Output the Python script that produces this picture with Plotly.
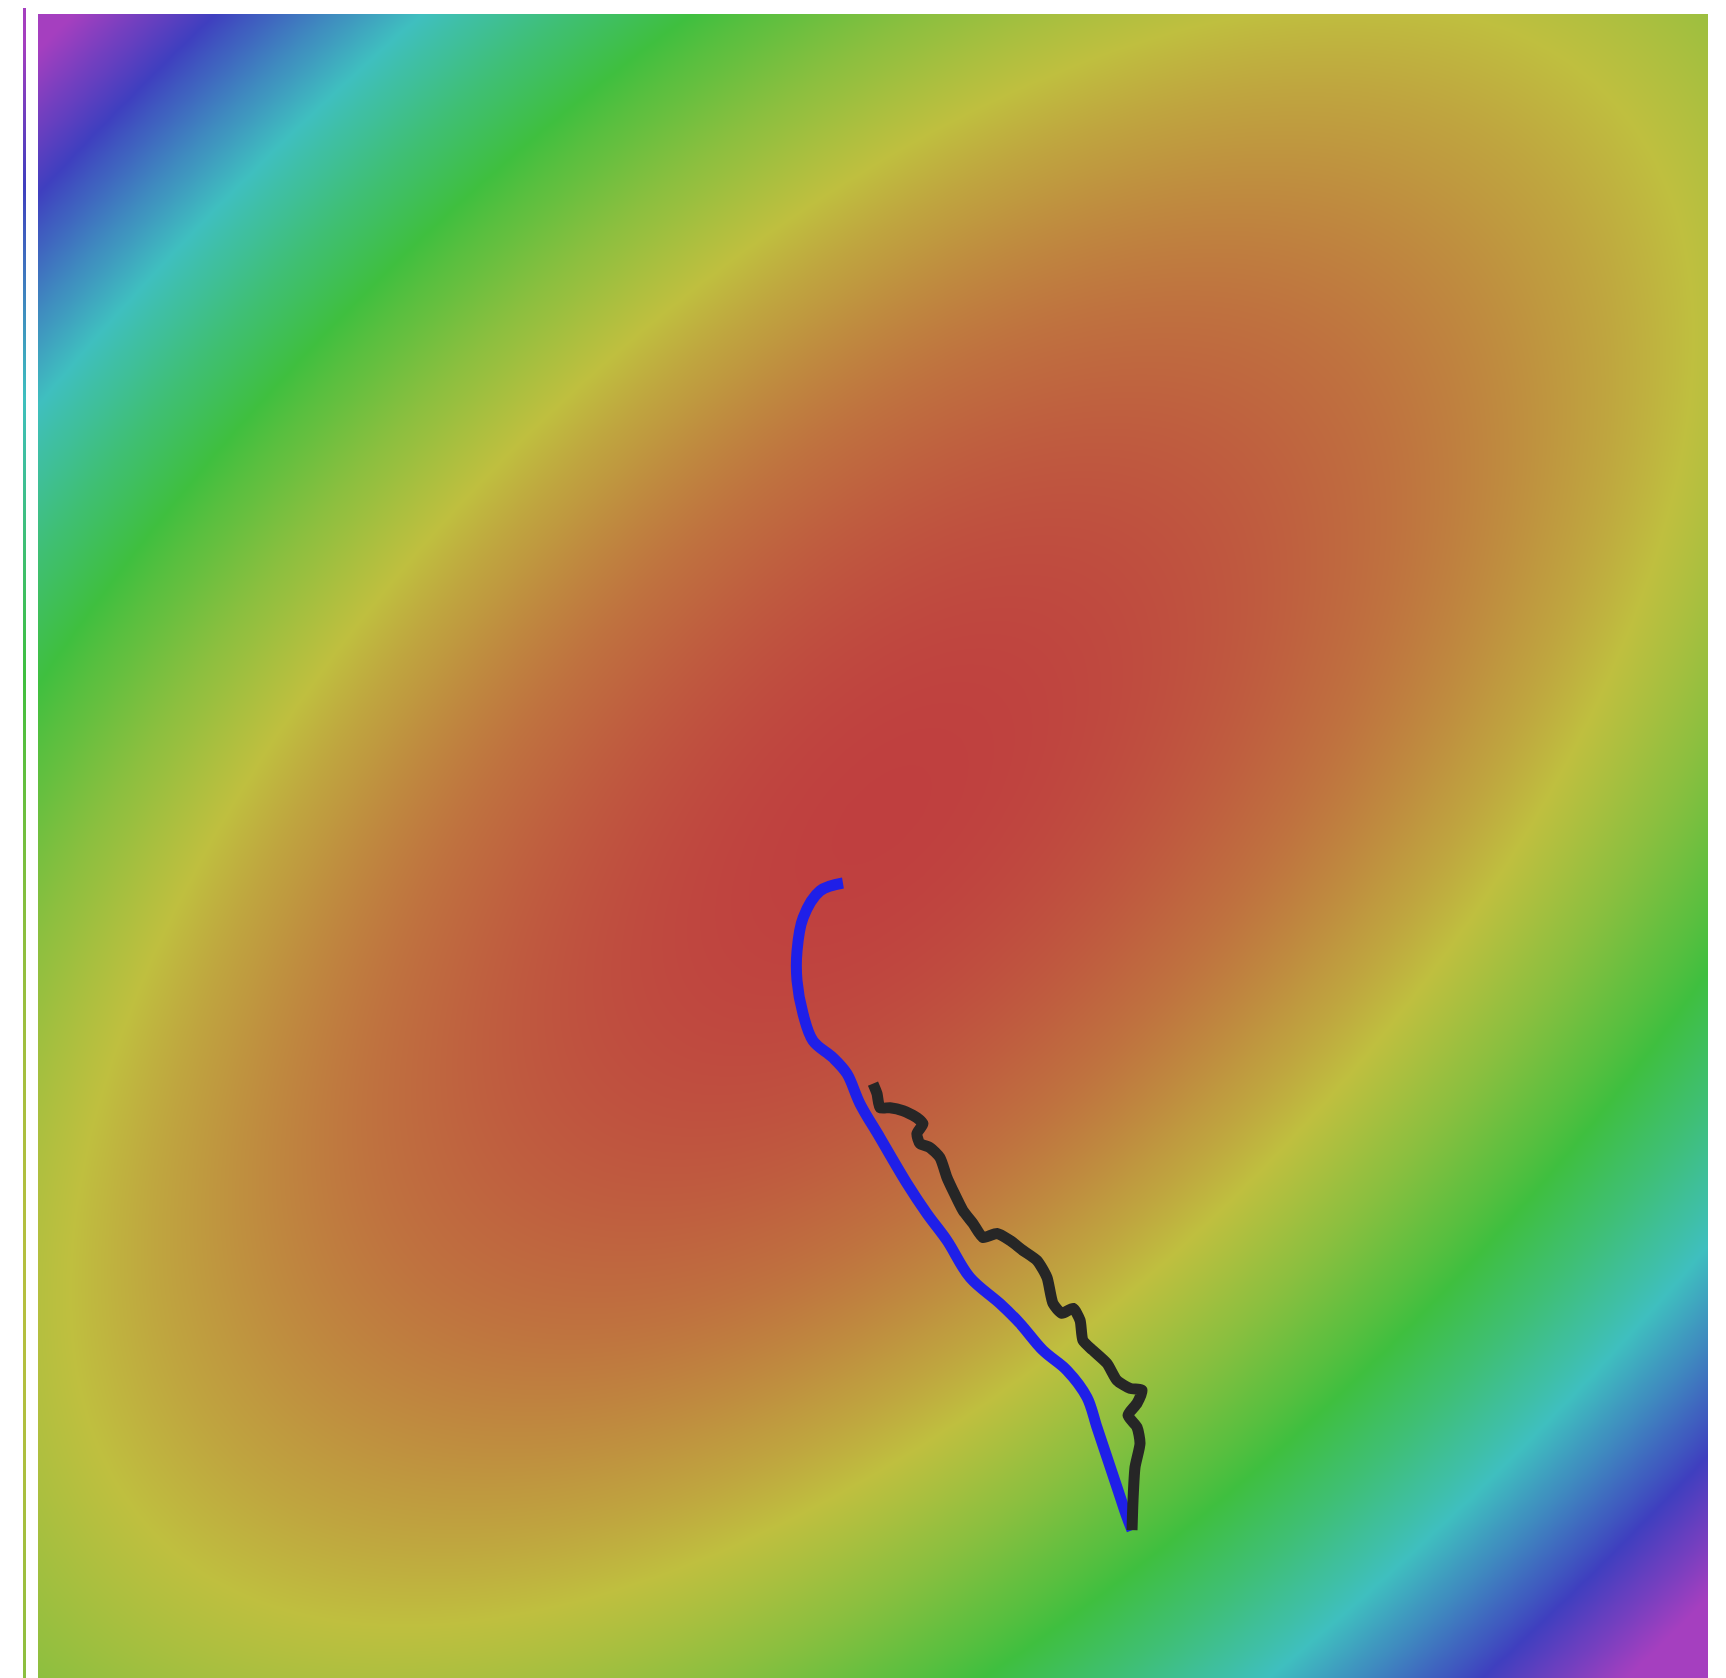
import colorsys
import numpy as np
import plotly.graph_objects as go

# ---- loss surface parameters (data units) ----
center_x = 5.05
center_y = 5.20
major_axis = 13.7   # along the up-right diagonal
minor_axis = 6.96   # along the up-left diagonal
hue_per_unit = 300.0
hue_cap = 288.0

# ---- optimisation paths (data units) ----
gd_x = [6.551, 6.521, 6.461, 6.401, 6.341, 6.281, 6.162, 6.018, 5.880, 5.760, 5.581,
        5.443, 5.323, 5.204, 5.042, 4.922, 4.844, 4.760, 4.641, 4.581, 4.545, 4.545,
        4.581, 4.683, 4.820]
gd_y = [0.910, 0.988, 1.168, 1.347, 1.527, 1.707, 1.868, 1.988, 2.150, 2.269, 2.425,
        2.647, 2.808, 2.988, 3.263, 3.467, 3.647, 3.743, 3.844, 4.006, 4.204, 4.383,
        4.581, 4.743, 4.790]

sgd_x = [6.551, 6.557, 6.569, 6.599, 6.581, 6.527, 6.581, 6.611, 6.539, 6.461, 6.401,
         6.317, 6.257, 6.240, 6.198, 6.132, 6.078, 6.042, 5.982, 5.898, 5.820, 5.743,
         5.659, 5.599, 5.539, 5.479, 5.443, 5.401, 5.341, 5.281, 5.263, 5.299, 5.263,
         5.180, 5.102, 5.042, 5.024, 5.000]
sgd_y = [0.910, 1.090, 1.287, 1.431, 1.527, 1.599, 1.671, 1.749, 1.760, 1.808, 1.910,
         1.988, 2.048, 2.168, 2.240, 2.210, 2.269, 2.425, 2.527, 2.587, 2.647, 2.689,
         2.665, 2.749, 2.826, 2.946, 3.024, 3.144, 3.204, 3.228, 3.287, 3.347, 3.383,
         3.425, 3.443, 3.443, 3.527, 3.587]

# ---- grid ----
gx = np.linspace(0, 10, 220)
gy = np.linspace(-0.1, 10, 220)
X, Y = np.meshgrid(gx, gy)
dx, dy = X - center_x, Y - center_y
u = (dx + dy) / np.sqrt(2)
v = (-dx + dy) / np.sqrt(2)
Z = (u / major_axis) ** 2 + (v / minor_axis) ** 2
zmax_value = hue_cap / hue_per_unit

# rainbow colorscale: red (low loss) -> purple (high loss)
stops = []
n = 48
for i in range(n + 1):
    t = i / n
    hue = hue_cap * t / 360.0
    r, g, b = colorsys.hls_to_rgb(hue, 0.5, 0.5)
    stops.append([t, f"rgb({int(r*255)},{int(g*255)},{int(b*255)})"])

W, H = 1710, 1680
fig = go.Figure()
fig.add_trace(go.Heatmap(x=gx, y=gy, z=Z, zmin=0, zmax=zmax_value, colorscale=stops,
                         zsmooth="best", showscale=False, hoverinfo="skip"))
fig.add_trace(go.Heatmap(x=[0, 1], y=gy, z=np.column_stack([Z[:, 0], Z[:, 0]]),
                         zmin=0, zmax=zmax_value, colorscale=stops, zsmooth="best",
                         showscale=False, xaxis="x2", yaxis="y2", hoverinfo="skip"))
fig.add_trace(go.Scatter(x=gd_x, y=gd_y, mode="lines",
                         line=dict(color="#1f1fe8", width=11, shape="spline", smoothing=1.0),
                         showlegend=False))
fig.add_trace(go.Scatter(x=sgd_x, y=sgd_y, mode="lines",
                         line=dict(color="#262626", width=11, shape="spline", smoothing=0.6),
                         showlegend=False))

fig.update_layout(
    width=W, height=H,
    margin=dict(l=0, r=0, t=0, b=0),
    paper_bgcolor="white", plot_bgcolor="white",
    xaxis=dict(domain=[30 / W, 1700 / W], range=[0, 10], visible=False),
    yaxis=dict(domain=[0, 1 - 6 / H], range=[-0.036, 10], visible=False),
    xaxis2=dict(domain=[15 / W, 18 / W], range=[0, 1], visible=False),
    yaxis2=dict(domain=[0, 1], range=[-0.1, 10], visible=False, anchor="x2"),
    showlegend=False,
)
fig.write_html("out.html")
